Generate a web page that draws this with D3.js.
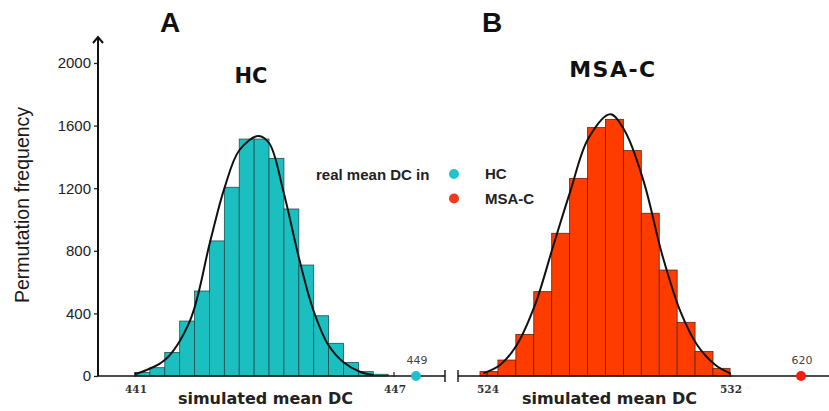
<!DOCTYPE html>
<html>
<head>
<meta charset="utf-8">
<script src="https://cdn.jsdelivr.net/npm/d3@7"></script>
<style>
  body { margin: 0; background: #fff; }
  svg { display: block; }
</style>
</head>
<body>
<script>
const width = 829, height = 411;

// panel A : HC
const countsA = [22, 53, 151, 351, 543, 863, 1206, 1514, 1514, 1391, 1067, 709, 385, 209, 87, 28, 11];
const binStartA = 441, binWidthA = 0.345;
const curveXA = [441.0, 441.69, 442.27, 442.74, 443.07, 443.42, 443.86, 444.11, 444.44, 444.80, 445.13, 445.48, 445.83, 446.21, 446.52];
const curveYA = [11, 102, 351, 858, 1199, 1444, 1534, 1487, 1178, 752, 422, 198, 88, 27, 6];
const ticksA = [441, 447];
const realA = 449;

// panel B : MSA-C
const countsB = [28, 102, 266, 539, 912, 1263, 1587, 1640, 1440, 1040, 677, 343, 156, 49, 17, 6];
const binStartB = 523.77, binWidthB = 0.59;
const curveXB = [523.88, 524.43, 524.98, 525.58, 526.19, 526.74, 527.34, 528.06, 528.55, 529.16, 529.77, 530.37, 530.92, 531.52, 532.13];
const curveYB = [17, 70, 198, 454, 837, 1178, 1519, 1672, 1561, 1242, 773, 411, 198, 70, 17];
const ticksB = [524, 532];
const realB = 620;

const yTicks = [0, 400, 800, 1200, 1600, 2000];
const groups = ["HC", "MSA-C"];

const cyan = "#1bbfc0", red = "#ff3c00";
const dotCyan = "#22c0cc", dotRed = "#f0200f";

const svg = d3.select("body").append("svg")
    .attr("width", width).attr("height", height);

const y = d3.scaleLinear().domain([0, 2000]).range([376, 63]);

// broken axes: last domain point sits past the break
const xA = d3.scaleLinear().domain([441, 447, 449]).range([135, 394, 416]);
const xB = d3.scaleLinear().domain([524, 532, 620]).range([487, 730, 801]);

// y axis
const yAxis = svg.append("g").attr("transform", "translate(98,0)")
    .call(d3.axisLeft(y).tickValues(yTicks).tickFormat(d3.format("d")).tickSize(4).tickPadding(3));
yAxis.select(".domain").remove();
yAxis.selectAll(".tick line").attr("stroke", "#222").attr("stroke-width", 1.3);
yAxis.selectAll(".tick text")
    .attr("font-family", "Liberation Sans, Arial, sans-serif")
    .attr("font-size", 15).attr("fill", "#222");

svg.append("line").attr("x1", 98).attr("x2", 98).attr("y1", y(0)).attr("y2", 37)
    .attr("stroke", "#111").attr("stroke-width", 2);
svg.append("path").attr("d", "M93,43 L98,37 L103,43")
    .attr("fill", "none").attr("stroke", "#111").attr("stroke-width", 2);

svg.append("text")
    .attr("transform", "translate(29,205) rotate(-90)")
    .attr("text-anchor", "middle")
    .attr("font-family", "Liberation Sans, Arial, sans-serif")
    .attr("font-size", 19.5).attr("fill", "#1a1a1a")
    .text("Permutation frequency");

function panel(x, counts, binStart, binWidth, cx, cy, ticks, real, fill, stroke, dotColor, x0, x1, endMark, startMark) {
    let g = svg.append("g");

    g.selectAll("rect").data(counts).enter().append("rect")
        .attr("x", (d, i) => x(binStart + i * binWidth))
        .attr("width", (d, i) => x(binStart + (i + 1) * binWidth) - x(binStart + i * binWidth))
        .attr("y", d => y(d))
        .attr("height", d => y(0) - y(d))
        .attr("fill", fill)
        .attr("stroke", stroke).attr("stroke-width", 0.8);

    // axis baseline
    g.append("line").attr("x1", x0).attr("x2", x1).attr("y1", y(0)).attr("y2", y(0))
        .attr("stroke", "#111").attr("stroke-width", 1.6);
    if (endMark) g.append("line").attr("x1", x1).attr("x2", x1).attr("y1", y(0) - 6).attr("y2", y(0) + 6)
        .attr("stroke", "#111").attr("stroke-width", 1.4);
    if (startMark) g.append("line").attr("x1", x0).attr("x2", x0).attr("y1", y(0) - 6).attr("y2", y(0) + 6)
        .attr("stroke", "#111").attr("stroke-width", 1.4);

    g.selectAll(".xt").data(ticks).enter().append("line")
        .attr("x1", d => x(d)).attr("x2", d => x(d))
        .attr("y1", y(0) - 4).attr("y2", y(0) + 1)
        .attr("stroke", "#222").attr("stroke-width", 1.2);
    g.selectAll(".xl").data(ticks).enter().append("text")
        .attr("x", d => x(d) + 1).attr("y", 393)
        .attr("text-anchor", "middle")
        .attr("font-family", "DejaVu Serif, serif").attr("font-weight", "bold")
        .attr("font-size", 10.5).attr("fill", "#333")
        .text(d => d);

    let pts = cx.map((v, i) => [v, cy[i]]);
    g.append("path").datum(pts)
        .attr("d", d3.line().x(d => x(d[0])).y(d => y(d[1])).curve(d3.curveCatmullRom))
        .attr("fill", "none").attr("stroke", "#111").attr("stroke-width", 2);

    g.append("circle").attr("cx", x(real)).attr("cy", y(0)).attr("r", 5).attr("fill", dotColor);
    g.append("text").attr("x", x(real) + 1).attr("y", 364)
        .attr("text-anchor", "middle")
        .attr("font-family", "DejaVu Sans, sans-serif").attr("font-size", 11).attr("fill", "#444")
        .text(real);

    g.append("text").attr("x", (x(ticks[0]) + x(ticks[1])) / 2 + 1).attr("y", 404)
        .attr("text-anchor", "middle")
        .attr("font-family", "DejaVu Sans, sans-serif").attr("font-weight", "bold")
        .attr("font-size", 16).attr("fill", "#222")
        .text("simulated mean DC");
}

panel(xA, countsA, binStartA, binWidthA, curveXA, curveYA, ticksA, realA, cyan, "#1f4f50", dotCyan, 98, 445, true, false);
panel(xB, countsB, binStartB, binWidthB, curveXB, curveYB, ticksB, realB, red, "#5a2412", dotRed, 458, 829, false, true);

// panel letters and titles
svg.append("text").attr("x", 170).attr("y", 32).attr("text-anchor", "middle")
    .attr("font-family", "Liberation Sans, Arial, sans-serif").attr("font-weight", "bold")
    .attr("font-size", 28).attr("fill", "#111").text("A");
svg.append("text").attr("x", 492).attr("y", 32).attr("text-anchor", "middle")
    .attr("font-family", "Liberation Sans, Arial, sans-serif").attr("font-weight", "bold")
    .attr("font-size", 28).attr("fill", "#111").text("B");
svg.append("text").attr("x", 251).attr("y", 83).attr("text-anchor", "middle")
    .attr("font-family", "DejaVu Sans, sans-serif").attr("font-weight", "bold")
    .attr("font-size", 21).attr("fill", "#111").text(groups[0]);
svg.append("text").attr("x", 613).attr("y", 77).attr("text-anchor", "middle")
    .attr("font-family", "DejaVu Sans, sans-serif").attr("font-weight", "bold")
    .attr("font-size", 22).attr("letter-spacing", 1.5).attr("fill", "#111").text(groups[1]);

// legend
svg.append("text").attr("x", 316).attr("y", 180)
    .attr("font-family", "Liberation Sans, Arial, sans-serif").attr("font-weight", "bold")
    .attr("font-size", 15).attr("fill", "#222").text("real mean DC in");
let leg = svg.selectAll(".leg").data(groups).enter().append("g");
leg.append("circle").attr("cx", 454).attr("cy", (d, i) => 174 + i * 24.5).attr("r", 5)
    .attr("fill", (d, i) => i ? "#f2391c" : "#26c1cb");
leg.append("text").attr("x", 485).attr("y", (d, i) => 179 + i * 24.5)
    .attr("font-family", "Liberation Sans, Arial, sans-serif").attr("font-weight", "bold")
    .attr("font-size", 15).attr("fill", "#222").text(d => d);
</script>
</body>
</html>
